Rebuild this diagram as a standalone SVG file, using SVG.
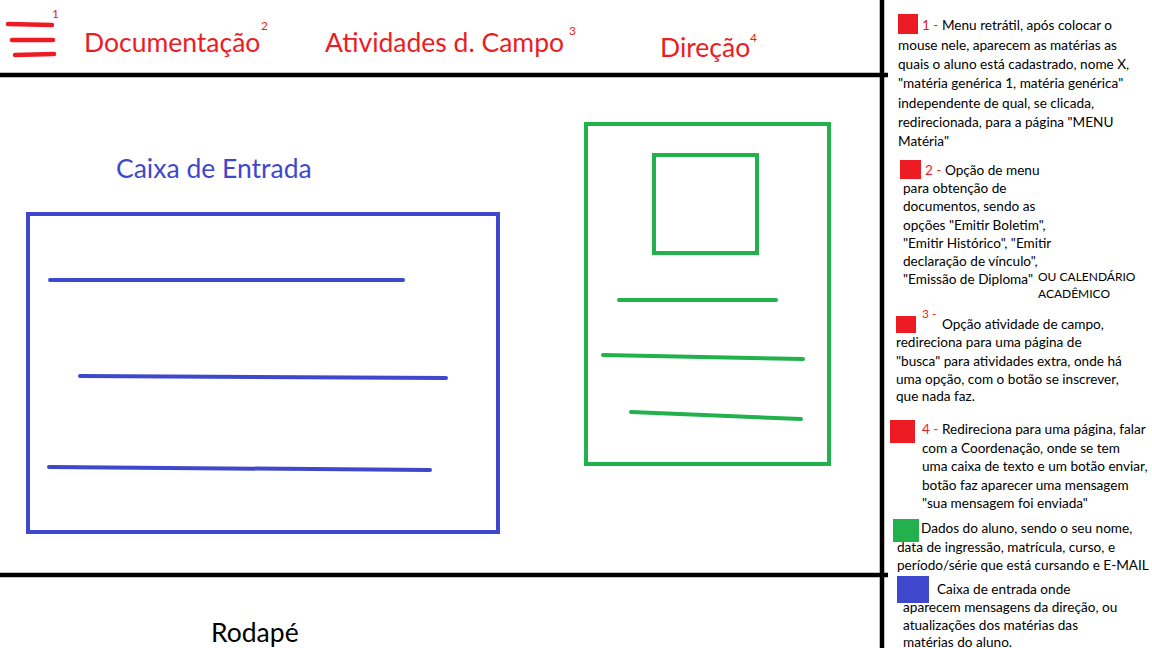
<svg xmlns="http://www.w3.org/2000/svg" width="1152" height="648" viewBox="0 0 1152 648">
<style>
.red{fill:#ED1C24}
.big{font-family:Lato,"Open Sans",sans-serif;font-size:26.5px}
.sup{font-family:Lato,"Open Sans",sans-serif;font-size:12px;fill:#ED1C24}
.note{font-family:Lato,"Open Sans",sans-serif;font-size:13.6px;fill:#000}
.small{font-family:Lato,"Open Sans",sans-serif;font-size:12px;fill:#000}
.blk{stroke:#000;stroke-width:4.5;fill:none}
.rl{stroke:#ED1C24;stroke-width:4.5;stroke-linecap:round;fill:none}
.bl{stroke:#3F48CC;stroke-width:4;stroke-linecap:round;fill:none}
.gl{stroke:#22B14C;stroke-width:4;stroke-linecap:round;fill:none}
</style>
<rect width="1152" height="648" fill="#fff"/>
<g id="frame">
<line class="blk" x1="0" y1="75" x2="888" y2="75"/>
<line class="blk" x1="0" y1="575" x2="888" y2="575"/>
<line class="blk" x1="882" y1="0" x2="882" y2="648"/>
</g>
<g id="menu">
<path class="rl" d="M8 24 L52 25 M12 40 L53 40 M15 55 L54 54"/>
<text class="sup" x="52" y="18">1</text>
</g>
<g id="documentacao">
<text class="big red" x="84" y="52">Documentação</text>
<text class="sup" x="261" y="30">2</text>
</g>
<g id="atividades">
<text class="big red" x="325" y="52">Atividades d. Campo</text>
<text class="sup" x="569" y="35">3</text>
</g>
<g id="direcao">
<text class="big red" x="660" y="57">Direção</text>
<text class="sup" x="750" y="42">4</text>
</g>
<g id="inbox">
<text class="big" x="116" y="178" fill="#3F48CC">Caixa de Entrada</text>
<rect class="bl" x="28" y="214" width="470" height="318" stroke-linecap="butt"/>
<path class="bl" d="M50 280 L403 280 M80 376 L446 378 M49 467 L430 470"/>
</g>
<g id="student">
<rect class="gl" x="586" y="124" width="243" height="340"/>
<rect class="gl" x="654" y="155" width="103" height="98"/>
<path class="gl" d="M619 300 L776 300 M603 355 L803 359 M631 412 L801 419"/>
</g>
<g id="footer">
<text class="big" x="211" y="642" fill="#000">Rodapé</text>
</g>
<g id="notes">
<rect x="898" y="14" width="20" height="20" fill="#ED1C24"/>
<text class="note"><tspan x="922" y="30"><tspan fill="#ED1C24">1 - </tspan>Menu retrátil, após colocar o</tspan><tspan x="898" y="50">mouse nele, aparecem as matérias as</tspan><tspan x="898" y="69">quais o aluno está cadastrado, nome X,</tspan><tspan x="898" y="88">"matéria genérica 1, matéria genérica"</tspan><tspan x="898" y="108">independente de qual, se clicada,</tspan><tspan x="898" y="127">redirecionada, para a página "MENU</tspan><tspan x="898" y="146">Matéria"</tspan></text>
<rect x="900" y="160" width="21" height="19" fill="#ED1C24"/>
<text class="note"><tspan x="925" y="175"><tspan fill="#ED1C24">2 - </tspan>Opção  de menu</tspan><tspan x="903" y="193">para obtenção de</tspan><tspan x="903" y="211">documentos, sendo as</tspan><tspan x="903" y="230">opções "Emitir Boletim",</tspan><tspan x="903" y="248">"Emitir Histórico", "Emitir</tspan><tspan x="903" y="266">declaração de vínculo",</tspan><tspan x="903" y="284">"Emissão de Diploma"</tspan></text>
<text class="small"><tspan x="1038" y="281">OU CALENDÁRIO</tspan><tspan x="1038" y="298">ACADÊMICO</tspan></text>
<rect x="896" y="316" width="20" height="17" fill="#ED1C24"/>
<text class="sup" x="922" y="318">3 -</text>
<text class="note"><tspan x="942" y="329">Opção atividade de campo,</tspan><tspan x="896" y="347">redireciona para uma página de</tspan><tspan x="896" y="366">"busca" para atividades extra, onde há</tspan><tspan x="896" y="384">uma opção, com o botão se inscrever,</tspan><tspan x="896" y="401">que nada faz.</tspan></text>
<rect x="890" y="420" width="25" height="23" fill="#ED1C24"/>
<text class="note"><tspan x="922" y="434"><tspan fill="#ED1C24">4 - </tspan>Redireciona para uma página, falar</tspan><tspan x="922" y="452.5">com a Coordenação, onde se tem</tspan><tspan x="922" y="471">uma caixa de texto e um botão enviar,</tspan><tspan x="922" y="489.5">botão faz aparecer uma mensagem</tspan><tspan x="922" y="508">"sua mensagem foi enviada"</tspan></text>
<rect x="893" y="519" width="26" height="23" fill="#22B14C"/>
<text class="note"><tspan x="921" y="533">Dados do aluno, sendo o seu nome,</tspan><tspan x="897" y="552">data de ingressão, matrícula, curso, e</tspan><tspan x="897" y="570">período/série que está cursando e E-MAIL</tspan></text>
<rect x="897" y="576" width="32" height="27" fill="#3F48CC"/>
<text class="note"><tspan x="937" y="594">Caixa de entrada onde</tspan><tspan x="903" y="612">aparecem mensagens da direção, ou</tspan><tspan x="903" y="630">atualizações dos matérias das</tspan><tspan x="903" y="647">matérias do aluno.</tspan></text>
</g>
</svg>
